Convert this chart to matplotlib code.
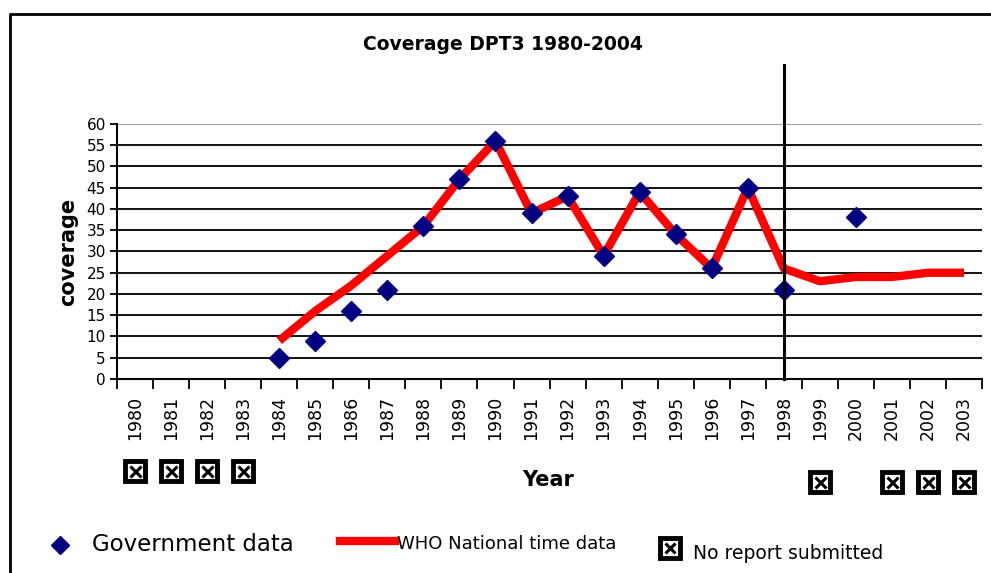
import matplotlib.pyplot as plt
import matplotlib.transforms as mtransforms
from matplotlib.lines import Line2D

YEARS = list(range(1980, 2004))

GOV_YEARS = [1984, 1985, 1986, 1987, 1988, 1989, 1990, 1991, 1992, 1993,
             1994, 1995, 1996, 1997, 1998, 2000]
GOV_VALUES = [5, 9, 16, 21, 36, 47, 56, 39, 43, 29, 44, 34, 26, 45, 21, 38]

WHO_YEARS = [1984, 1985, 1986, 1987, 1988, 1989, 1990, 1991, 1992, 1993,
             1994, 1995, 1996, 1997, 1998, 1999, 2000, 2001, 2002, 2003]
WHO_VALUES = [9, 16, 22, 29, 36, 47, 56, 39, 43, 29, 44, 34, 26, 45, 26,
              23, 24, 24, 25, 25]

NO_REPORT_LEFT = [1980, 1981, 1982, 1983]
NO_REPORT_RIGHT = [1999, 2001, 2002, 2003]

Y_TICKS = list(range(0, 61, 5))
CUTOFF_YEAR = 1998

NAVY = "#000080"
RED = "#ff0000"


def no_report_box(ax, xs, y, transform, size=22):
    ax.plot(xs, [y] * len(xs), linestyle="none", marker="s", markersize=size * 0.68,
            markerfacecolor="white", markeredgecolor="black", markeredgewidth=3.5,
            transform=transform, clip_on=False)
    ax.plot(xs, [y] * len(xs), linestyle="none", marker="x", markersize=size * 0.36,
            markeredgecolor="black", markeredgewidth=2.2,
            transform=transform, clip_on=False)


def main():
    fig = plt.figure(figsize=(9.91, 5.73), dpi=100)
    ax = fig.add_axes([0.1181, 0.3386, 0.8729, 0.445])

    # grid lines (top one grey, as in the original)
    for v in Y_TICKS[1:]:
        ax.axhline(v, color="#999999" if v == 60 else "black", lw=1.3, zorder=1)

    ax.plot(WHO_YEARS, WHO_VALUES, color=RED, lw=6, solid_joinstyle="round",
            solid_capstyle="butt", zorder=3)
    ax.plot(GOV_YEARS, GOV_VALUES, linestyle="none", marker="D", markersize=10.5,
            color=NAVY, zorder=4)

    ax.axvline(CUTOFF_YEAR, ymin=0, ymax=1.231, color="black", lw=2.2,
               clip_on=False, zorder=5)

    ax.set_xlim(YEARS[0] - 0.5, YEARS[-1] + 0.5)
    ax.set_ylim(0, 60)
    ax.set_yticks(Y_TICKS)
    ax.tick_params(axis="y", direction="out", length=5, width=1.3, labelsize=11, pad=3)

    ax.set_xticks([y - 0.5 for y in YEARS] + [YEARS[-1] + 0.5])
    ax.set_xticklabels([])
    ax.set_xticks(YEARS, minor=True)
    ax.set_xticklabels([str(y) for y in YEARS], minor=True, rotation=90, fontsize=12.5)
    ax.tick_params(axis="x", which="major", direction="out", length=7, width=1.3)
    ax.tick_params(axis="x", which="minor", length=0, pad=12)

    for s in ("top", "right"):
        ax.spines[s].set_visible(False)
    for s in ("left", "bottom"):
        ax.spines[s].set_linewidth(1.5)

    ax.set_ylabel("coverage", fontsize=15, fontweight="bold", labelpad=6)
    fig.text(0.508, 0.923, "Coverage DPT3 1980-2004", fontsize=13.5, fontweight="bold",
             ha="center", va="center")

    trans = mtransforms.blended_transform_factory(ax.transData, ax.transAxes)
    no_report_box(ax, NO_REPORT_LEFT, -0.36, trans)
    no_report_box(ax, NO_REPORT_RIGHT, -0.405, trans)

    fig.text(0.553, 0.162, "Year", fontsize=15, fontweight="bold", ha="center", va="center")

    # legend drawn by hand along the bottom
    fig.add_artist(Line2D([0.0605], [0.049], marker="D", markersize=9, color=NAVY,
                          linestyle="none", transform=fig.transFigure))
    fig.text(0.093, 0.049, "Government data", fontsize=16.5, va="center")
    fig.add_artist(Line2D([0.343, 0.399], [0.056, 0.056], color=RED, lw=6,
                          transform=fig.transFigure))
    fig.text(0.401, 0.051, "WHO National time data", fontsize=13, va="center")
    fig.add_artist(Line2D([0.676], [0.044], marker="s", markersize=14, markerfacecolor="white",
                          markeredgecolor="black", markeredgewidth=3.5, linestyle="none",
                          transform=fig.transFigure))
    fig.add_artist(Line2D([0.676], [0.044], marker="x", markersize=7.5, markeredgecolor="black",
                          markeredgewidth=2.2, linestyle="none", transform=fig.transFigure))
    fig.text(0.699, 0.034, "No report submitted", fontsize=13.5, va="center")

    # outer frame
    fig.add_artist(Line2D([0.0101, 0.0101, 1.0], [0.0, 0.9756, 0.9756], color="black",
                          lw=2, transform=fig.transFigure))

    fig.savefig("out.png", dpi=100)


if __name__ == "__main__":
    main()
